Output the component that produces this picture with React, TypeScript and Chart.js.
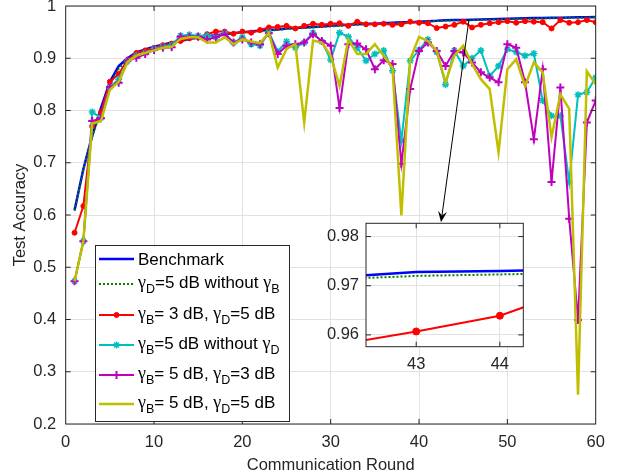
import React, { useEffect, useRef } from 'react';
import { Chart, registerables } from 'chart.js';
import { drawPoint } from 'chart.js/helpers';

Chart.register(...registerables);

// ---------- data ----------
const rounds = [
  1, 2, 3, 4, 5, 6, 7, 8, 9, 10, 11, 12, 13, 14, 15, 16, 17, 18, 19, 20,
  21, 22, 23, 24, 25, 26, 27, 28, 29, 30, 31, 32, 33, 34, 35, 36, 37, 38, 39, 40,
  41, 42, 43, 44, 45, 46, 47, 48, 49, 50, 51, 52, 53, 54, 55, 56, 57, 58, 59, 60,
];

const benchmark = [
  0.609, 0.688, 0.752, 0.805, 0.855, 0.885, 0.9, 0.911, 0.917, 0.922,
  0.926, 0.93, 0.933, 0.937, 0.94, 0.942, 0.944, 0.946, 0.948, 0.95,
  0.951, 0.953, 0.954, 0.955, 0.957, 0.958, 0.959, 0.96, 0.961, 0.962,
  0.963, 0.964, 0.965, 0.966, 0.966, 0.967, 0.968, 0.969, 0.969, 0.97,
  0.971, 0.9717, 0.9728, 0.973, 0.9734, 0.9738, 0.9742, 0.9746, 0.975, 0.9755,
  0.976, 0.9764, 0.9768, 0.977, 0.9773, 0.9776, 0.978, 0.9783, 0.9786, 0.979,
];

const d5NoB = [
  0.608, 0.686, 0.749, 0.8, 0.85, 0.88, 0.897, 0.909, 0.915, 0.92,
  0.925, 0.929, 0.932, 0.936, 0.939, 0.941, 0.943, 0.945, 0.947, 0.949,
  0.95, 0.952, 0.953, 0.954, 0.956, 0.957, 0.958, 0.959, 0.96, 0.961,
  0.962, 0.963, 0.964, 0.965, 0.965, 0.966, 0.967, 0.968, 0.968, 0.969,
  0.9705, 0.9713, 0.972, 0.9723, 0.9726, 0.973, 0.9734, 0.9738, 0.9742, 0.9746,
  0.975, 0.9754, 0.9758, 0.9762, 0.9765, 0.9768, 0.9772, 0.9775, 0.9778, 0.9781,
];

const b3d5 = [
  0.566, 0.617, 0.77, 0.796, 0.855, 0.87, 0.897, 0.91, 0.915, 0.92,
  0.925, 0.928, 0.933, 0.938, 0.94, 0.946, 0.951, 0.951, 0.947, 0.951,
  0.949, 0.954, 0.959, 0.96, 0.962, 0.957, 0.962, 0.966, 0.964, 0.966,
  0.967, 0.962, 0.97, 0.965, 0.965, 0.966, 0.964, 0.965, 0.97, 0.968,
  0.967, 0.9578, 0.9607, 0.9639, 0.97, 0.959, 0.964, 0.967, 0.969, 0.971,
  0.968, 0.971, 0.97, 0.969, 0.957, 0.973, 0.968, 0.969, 0.973, 0.969,
];

const b5NoD = [
  0.473, 0.55, 0.797, 0.786, 0.845, 0.86, 0.895, 0.905, 0.91, 0.918,
  0.922, 0.925, 0.943, 0.945, 0.943, 0.943, 0.94, 0.948, 0.93, 0.94,
  0.927, 0.924, 0.95, 0.913, 0.932, 0.92, 0.93, 0.949, 0.932, 0.897,
  0.949, 0.941, 0.92, 0.895, 0.908, 0.915, 0.876, 0.742, 0.895, 0.916,
  0.936, 0.912, 0.85, 0.915, 0.885, 0.9, 0.915, 0.866, 0.885, 0.917,
  0.912, 0.905, 0.909, 0.819, 0.79, 0.79, 0.663, 0.83, 0.835, 0.863,
];

const b5d3 = [
  0.473, 0.55, 0.78, 0.785, 0.845, 0.853, 0.895, 0.901, 0.908, 0.916,
  0.92, 0.921, 0.941, 0.941, 0.941, 0.936, 0.94, 0.946, 0.93, 0.936,
  0.93, 0.927, 0.948, 0.908, 0.924, 0.927, 0.93, 0.946, 0.933, 0.924,
  0.805, 0.927, 0.928, 0.917, 0.879, 0.896, 0.889, 0.698, 0.841, 0.914,
  0.93, 0.914, 0.885, 0.914, 0.911, 0.892, 0.873, 0.863, 0.854, 0.927,
  0.92, 0.854, 0.745, 0.879, 0.663, 0.844, 0.593, 0.399, 0.777, 0.819,
];

const b5d5 = [
  0.473, 0.55, 0.775, 0.78, 0.84, 0.855, 0.893, 0.905, 0.91, 0.915,
  0.92, 0.922, 0.937, 0.94, 0.94, 0.93, 0.93, 0.94, 0.927, 0.936,
  0.932, 0.929, 0.949, 0.882, 0.918, 0.927, 0.777, 0.934, 0.93, 0.905,
  0.847, 0.936, 0.908, 0.908, 0.927, 0.905, 0.882, 0.599, 0.898, 0.941,
  0.933, 0.914, 0.854, 0.905, 0.924, 0.889, 0.86, 0.841, 0.72, 0.879,
  0.898, 0.847, 0.892, 0.873, 0.749, 0.831, 0.803, 0.256, 0.875, 0.85,
];

const xTickValues = [0, 10, 20, 30, 40, 50, 60];
const xTickLabels = ['0', '10', '20', '30', '40', '50', '60'];
const yTickValues = [0.2, 0.3, 0.4, 0.5, 0.6, 0.7, 0.8, 0.9, 1];
const yTickLabels = ['0.2', '0.3', '0.4', '0.5', '0.6', '0.7', '0.8', '0.9', '1'];

const insetXTickValues = [43, 44];
const insetXTickLabels = ['43', '44'];
const insetYTickValues = [0.96, 0.97, 0.98];
const insetYTickLabels = ['0.96', '0.97', '0.98'];

type Part = { t: string; k: 'n' | 'g' | 's' };
const legendLabels: Part[][] = [
  [{ t: 'Benchmark', k: 'n' }],
  [{ t: 'γ', k: 'g' }, { t: 'D', k: 's' }, { t: '=5 dB without ', k: 'n' }, { t: 'γ', k: 'g' }, { t: 'B', k: 's' }],
  [{ t: 'γ', k: 'g' }, { t: 'B', k: 's' }, { t: '= 3 dB, ', k: 'n' }, { t: 'γ', k: 'g' }, { t: 'D', k: 's' }, { t: '=5 dB', k: 'n' }],
  [{ t: 'γ', k: 'g' }, { t: 'B', k: 's' }, { t: '=5 dB without ', k: 'n' }, { t: 'γ', k: 'g' }, { t: 'D', k: 's' }],
  [{ t: 'γ', k: 'g' }, { t: 'B', k: 's' }, { t: '= 5 dB, ', k: 'n' }, { t: 'γ', k: 'g' }, { t: 'D', k: 's' }, { t: '=3 dB', k: 'n' }],
  [{ t: 'γ', k: 'g' }, { t: 'B', k: 's' }, { t: '= 5 dB, ', k: 'n' }, { t: 'γ', k: 'g' }, { t: 'D', k: 's' }, { t: '=5 dB', k: 'n' }],
];

// arrow annotation, in data units (from near the curves to the inset)
const ARROW_FROM = { x: 45.66, y: 0.975 };
const ARROW_TO = { x: 42.49, y: 0.586 };

// ---------- styles ----------
const SANS = '"Liberation Sans", Arial, Helvetica, sans-serif';
const SERIF = '"Liberation Serif", "Times New Roman", serif';
const INK = '#262626';
const GRID = '#e2e2e2';
const FS = 16.5;
const LEG_FS = 17;
const SUB_FS = 12.5;
const TICK_LEN = 5;

const W = 624;
const H = 475;

const LEGEND_BOX = { left: 95.5, top: 245.5, right: 289.5, bottom: 421.5 };
const LEGEND_SAMPLE = [99, 134];
const LEGEND_TEXT_X = 138;
const LEGEND_ROW_Y = [259, 284, 315, 345, 375, 404];
const LEGEND_BASE_DY = [6, 4, 4, 4, 4, 4];

const INSET_POS = { left: 300, top: 213, width: 240, height: 170 };

function toXY(vals: number[]) {
  return vals.map((v, i) => ({ x: rounds[i], y: v }));
}

function makeDatasets(inset: boolean): any[] {
  const mr = inset ? 3.5 : 2.5;
  const all = [
    {
      label: 'Benchmark', data: toXY(benchmark), borderColor: 'rgb(0,0,255)', borderWidth: 2.5,
      pointRadius: 0, order: 6,
    },
    {
      label: 'd5noB', data: toXY(d5NoB), borderColor: 'rgb(0,128,0)', borderWidth: 2, borderDash: [2, 2],
      pointRadius: 0, order: 5,
    },
    {
      label: 'b3d5', data: toXY(b3d5), borderColor: 'rgb(255,0,0)', borderWidth: 2,
      pointRadius: mr, pointStyle: 'circle', pointBackgroundColor: 'rgb(255,0,0)', pointBorderColor: 'rgb(255,0,0)',
      pointBorderWidth: 1, order: 4,
    },
    {
      label: 'b5noD', data: toXY(b5NoD), borderColor: 'rgb(0,191,191)', borderWidth: 2,
      pointRadius: 3.5, pointStyle: 'star', pointBorderColor: 'rgb(0,191,191)', pointBackgroundColor: 'rgb(0,191,191)',
      pointBorderWidth: 1.5, order: 3,
    },
    {
      label: 'b5d3', data: toXY(b5d3), borderColor: 'rgb(191,0,191)', borderWidth: 2,
      pointRadius: 4, pointStyle: 'cross', pointBorderColor: 'rgb(191,0,191)', pointBackgroundColor: 'rgb(191,0,191)',
      pointBorderWidth: 2, order: 2,
    },
    {
      label: 'b5d5', data: toXY(b5d5), borderColor: 'rgb(191,191,0)', borderWidth: 2.5,
      pointRadius: 0, order: 1,
    },
  ];
  const ds = inset ? all.slice(0, 3) : all;
  return ds.map((d) => ({ ...d, tension: 0, fill: false, pointHoverRadius: d.pointRadius }));
}

function drawRich(ctx: CanvasRenderingContext2D, x: number, y: number, parts: Part[]) {
  let cx = x;
  for (const p of parts) {
    if (p.k === 'n') ctx.font = `${LEG_FS}px ${SANS}`;
    else if (p.k === 'g') ctx.font = `${LEG_FS + 1}px ${SERIF}`;
    else ctx.font = `${SUB_FS}px ${SANS}`;
    const dy = p.k === 's' ? 4.5 : 0;
    ctx.fillText(p.t, cx, y + dy);
    cx += ctx.measureText(p.t).width;
  }
}

function frame(chart: any, xVals: number[], yVals: number[]) {
  const { ctx, chartArea: a, scales } = chart;
  ctx.save();
  ctx.strokeStyle = INK;
  ctx.lineWidth = 1;
  ctx.strokeRect(a.left, a.top, a.right - a.left, a.bottom - a.top);
  ctx.beginPath();
  for (const v of xVals) {
    const px = scales.x.getPixelForValue(v);
    if (px < a.left + 1 || px > a.right - 1) continue;
    ctx.moveTo(px, a.bottom);
    ctx.lineTo(px, a.bottom - TICK_LEN);
    ctx.moveTo(px, a.top);
    ctx.lineTo(px, a.top + TICK_LEN);
  }
  for (const v of yVals) {
    const py = scales.y.getPixelForValue(v);
    if (py < a.top + 1 || py > a.bottom - 1) continue;
    ctx.moveTo(a.left, py);
    ctx.lineTo(a.left + TICK_LEN, py);
    ctx.moveTo(a.right, py);
    ctx.lineTo(a.right - TICK_LEN, py);
  }
  ctx.stroke();
  ctx.restore();
}

const mainPlugin = {
  id: 'mainDecor',
  afterDatasetsDraw(chart: any) {
    frame(chart, xTickValues, yTickValues);
    const { ctx, scales } = chart;
    // legend
    ctx.save();
    ctx.fillStyle = '#ffffff';
    ctx.fillRect(LEGEND_BOX.left, LEGEND_BOX.top, LEGEND_BOX.right - LEGEND_BOX.left, LEGEND_BOX.bottom - LEGEND_BOX.top);
    ctx.strokeStyle = INK;
    ctx.lineWidth = 1;
    ctx.strokeRect(LEGEND_BOX.left, LEGEND_BOX.top, LEGEND_BOX.right - LEGEND_BOX.left, LEGEND_BOX.bottom - LEGEND_BOX.top);
    const datasets = chart.data.datasets;
    datasets.forEach((ds: any, i: number) => {
      const y = LEGEND_ROW_Y[i];
      ctx.save();
      ctx.strokeStyle = ds.borderColor;
      ctx.lineWidth = ds.borderWidth;
      ctx.setLineDash(ds.borderDash || []);
      ctx.beginPath();
      ctx.moveTo(LEGEND_SAMPLE[0], y);
      ctx.lineTo(LEGEND_SAMPLE[1], y);
      ctx.stroke();
      ctx.setLineDash([]);
      if (ds.pointRadius > 0) {
        ctx.fillStyle = ds.pointBackgroundColor;
        ctx.strokeStyle = ds.pointBorderColor;
        ctx.lineWidth = ds.pointBorderWidth;
        drawPoint(ctx, { pointStyle: ds.pointStyle, rotation: 0, radius: ds.pointRadius, borderWidth: ds.pointBorderWidth } as any,
          (LEGEND_SAMPLE[0] + LEGEND_SAMPLE[1]) / 2, y);
      }
      ctx.restore();
      ctx.fillStyle = '#000000';
      ctx.textBaseline = 'alphabetic';
      ctx.textAlign = 'left';
      drawRich(ctx, LEGEND_TEXT_X, y + LEGEND_BASE_DY[i], legendLabels[i]);
    });
    ctx.restore();

    // arrow
    const x0 = scales.x.getPixelForValue(ARROW_FROM.x);
    const y0 = scales.y.getPixelForValue(ARROW_FROM.y);
    const x1 = scales.x.getPixelForValue(ARROW_TO.x);
    const y1 = scales.y.getPixelForValue(ARROW_TO.y);
    const ang = Math.atan2(y1 - y0, x1 - x0);
    const L = 11, Wd = 4.5, notch = 7;
    ctx.save();
    ctx.strokeStyle = '#000';
    ctx.fillStyle = '#000';
    ctx.lineWidth = 1;
    ctx.beginPath();
    ctx.moveTo(x0, y0);
    ctx.lineTo(x1 - Math.cos(ang) * notch, y1 - Math.sin(ang) * notch);
    ctx.stroke();
    const bx = x1 - Math.cos(ang) * L, by = y1 - Math.sin(ang) * L;
    const nx = -Math.sin(ang), ny = Math.cos(ang);
    ctx.beginPath();
    ctx.moveTo(x1, y1);
    ctx.lineTo(bx + nx * Wd, by + ny * Wd);
    ctx.lineTo(x1 - Math.cos(ang) * notch, y1 - Math.sin(ang) * notch);
    ctx.lineTo(bx - nx * Wd, by - ny * Wd);
    ctx.closePath();
    ctx.fill();
    ctx.restore();
  },
};

const insetPlugin = {
  id: 'insetDecor',
  beforeDraw(chart: any) {
    const { ctx, chartArea: a } = chart;
    ctx.save();
    ctx.fillStyle = '#ffffff';
    ctx.fillRect(a.left, a.top, a.right - a.left, a.bottom - a.top);
    ctx.restore();
  },
  afterDatasetsDraw(chart: any) {
    frame(chart, insetXTickValues, insetYTickValues);
  },
};

function scaleOpts(
  min: number, max: number, tv: number[], tl: string[], pad: number,
  fitSize: number, horizontal: boolean, title?: { text: string; pad: number },
): any {
  return {
    type: 'linear',
    min, max,
    afterBuildTicks: (s: any) => { s.ticks = tv.map((v) => ({ value: v })); },
    ticks: {
      callback: (_v: any, i: number) => tl[i],
      color: INK,
      font: { family: SANS, size: FS },
      padding: pad,
      maxRotation: 0,
      autoSkip: false,
      includeBounds: false,
    },
    grid: { color: GRID, drawTicks: false, lineWidth: 1 },
    border: { display: false },
    title: title
      ? {
          display: true, text: title.text, color: INK, font: { family: SANS, size: FS },
          padding: horizontal ? { top: 0, bottom: title.pad } : { top: title.pad, bottom: 0 },
        }
      : { display: false },
    afterFit: (s: any) => {
      if (horizontal) s.height = fitSize; else s.width = fitSize;
      s.paddingLeft = 0; s.paddingRight = 0; s.paddingTop = 0; s.paddingBottom = 0;
    },
  };
}

export default function App() {
  const mainRef = useRef<HTMLCanvasElement | null>(null);
  const insetRef = useRef<HTMLCanvasElement | null>(null);

  useEffect(() => {
    if (!mainRef.current || !insetRef.current) return;
    const main = new Chart(mainRef.current, {
      type: 'line',
      data: { datasets: makeDatasets(false) },
      options: {
        animation: false,
        responsive: false,
        maintainAspectRatio: false,
        devicePixelRatio: 1,
        layout: { padding: { left: 0, right: 28.3, top: 5, bottom: 0 } },
        plugins: { legend: { display: false }, tooltip: { enabled: false } },
        scales: {
          x: scaleOpts(0, 60, xTickValues, xTickLabels, 9, 51, true, { text: 'Communication Round', pad: 0 }),
          y: scaleOpts(0.2, 1, yTickValues, yTickLabels, 9.5, 65.7, false, { text: 'Test Accuracy', pad: 11 }),
        },
      } as any,
      plugins: [mainPlugin],
    });
    const inset = new Chart(insetRef.current, {
      type: 'line',
      data: { datasets: makeDatasets(true) },
      options: {
        animation: false,
        responsive: false,
        maintainAspectRatio: false,
        devicePixelRatio: 1,
        layout: { padding: { left: 0, right: 16.7, top: 10.3, bottom: 0 } },
        plugins: { legend: { display: false }, tooltip: { enabled: false } },
        scales: {
          x: scaleOpts(42.4, 44.28, insetXTickValues, insetXTickLabels, 8, 36.3, true),
          y: scaleOpts(0.9576, 0.9827, insetYTickValues, insetYTickLabels, 7, 66, false),
        },
      } as any,
      plugins: [insetPlugin],
    });
    return () => {
      main.destroy();
      inset.destroy();
    };
  }, []);

  return (
    <div style={{ position: 'fixed', left: 0, top: 0, width: W, height: H, background: '#fff' }}>
      <canvas ref={mainRef} width={W} height={H} style={{ position: 'absolute', left: 0, top: 0, width: W, height: H }} />
      <canvas
        ref={insetRef}
        width={INSET_POS.width}
        height={INSET_POS.height}
        style={{ position: 'absolute', left: INSET_POS.left, top: INSET_POS.top, width: INSET_POS.width, height: INSET_POS.height }}
      />
    </div>
  );
}
